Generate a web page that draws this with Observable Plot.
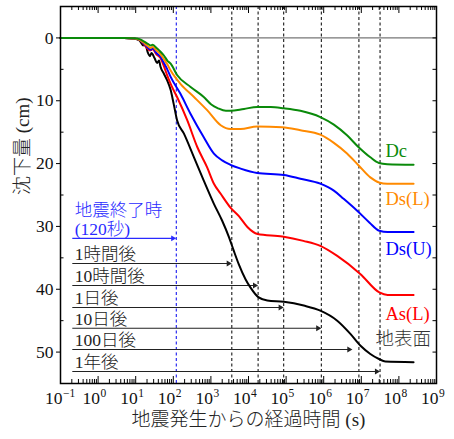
<!DOCTYPE html>
<html><head><meta charset="utf-8">
<script src="https://cdn.jsdelivr.net/npm/d3@7"></script>
<script src="https://cdn.jsdelivr.net/npm/@observablehq/plot@0.6"></script>
<style>body{margin:0;background:#fff}</style>
</head><body><div id="chart"></div>
<script>
// ---- data (time as log10 seconds, settlement in cm) ----
const seriesNames  = ["地表面", "As(L)", "Ds(U)", "Ds(L)", "Dc"];
const seriesColors = ["#000000", "#ff0000", "#0000ff", "#ff8a00", "#0a8a0a"];

const groundLogT = [-1,0.7,0.95,1.1,1.2,1.25,1.32,1.38,1.42,1.5,1.57,1.62,1.66,1.75,1.84,1.93,2.01,2.10,2.28,2.55,2.81,3.08,3.30,3.48,3.61,3.74,3.92,4.05,4.27,4.50,4.94,5.47,5.91,6.36,6.71,6.98,7.24,7.47,7.64,8.39];
const groundVal  = [0,0,0.1,0.4,1.2,0.9,2.3,2.9,2.4,3.2,4.0,3.6,4.6,5.7,6.8,8.3,10.5,13.1,15.2,19.0,22.7,26.4,29.1,31.7,33.9,36.0,38.4,39.7,41.3,41.8,42.0,42.6,43.4,45.0,47.1,49.0,50.3,51.1,51.5,51.6];

const asLogT = [-1,0.7,0.95,1.1,1.2,1.3,1.38,1.45,1.55,1.66,1.75,1.84,1.95,2.10,2.37,2.64,2.90,3.08,3.26,3.52,3.75,3.97,4.24,4.90,5.46,5.91,6.36,6.98,7.48,7.70,8.39];
const asVal  = [0,0,0.1,0.3,0.9,1.6,2.0,1.8,2.6,3.2,4.5,6.0,7.6,9.4,13.1,17.4,20.6,23.2,24.8,27.0,28.4,30.1,31.2,31.6,32.3,33.1,34.7,37.6,40.5,40.9,40.9];

const dsuLogT = [-1,0.7,0.95,1.1,1.2,1.3,1.4,1.45,1.55,1.66,1.75,1.84,1.93,2.19,2.46,2.81,3.08,3.30,3.52,3.79,4.23,4.94,5.38,5.91,6.27,6.53,6.89,7.22,7.48,7.70,8.39];
const dsuVal  = [0,0,0.1,0.3,0.8,1.4,1.9,1.6,2.4,3.0,4.0,5.0,6.2,8.9,12.1,15.8,18.4,19.5,20.2,20.8,21.5,21.8,22.4,23.2,24.3,25.6,27.5,29.4,30.7,30.9,30.9];

const dslLogT = [-1,0.7,0.95,1.1,1.2,1.3,1.4,1.45,1.55,1.66,1.75,1.84,1.93,2.19,2.55,2.90,3.26,3.52,3.79,4.23,4.90,5.38,5.91,6.27,6.62,6.93,7.24,7.47,7.69,8.39];
const dslVal  = [0,0,0.1,0.3,0.7,1.2,1.6,1.4,2.0,2.6,3.4,4.2,5.2,7.3,9.4,11.5,13.9,14.5,14.5,14.1,14.2,14.7,15.4,16.7,18.4,20.3,22.2,23.0,23.2,23.2];

const dcLogT = [-1,0.7,0.95,1.1,1.2,1.31,1.4,1.45,1.57,1.66,1.75,1.84,1.93,2.10,2.46,2.81,3.01,3.19,3.40,3.52,3.88,4.23,4.59,4.94,5.38,5.91,6.27,6.62,6.93,7.24,7.47,7.69,8.39];
const dcVal  = [0,0,0.05,0.2,0.5,0.9,1.2,1.1,1.7,2.2,2.8,3.6,4.1,5.9,7.8,9.4,10.6,11.2,11.6,11.6,11.3,11.0,11.0,11.2,11.6,12.6,13.8,15.5,17.4,19.0,19.9,20.1,20.2];

const seriesLogT = [groundLogT, asLogT, dsuLogT, dslLogT, dcLogT];
const seriesVal  = [groundVal, asVal, dsuVal, dslVal, dcVal];

// series labels (time s, settlement cm)
const labelTimes = [2.4e7, 4.4e7, 4.4e7, 4.4e7, 4.4e7];
const labelVals  = [47.9, 43.9, 33.6, 25.7, 18.0];
const labelColors = ["#333333", "#ff0000", "#0000ff", "#ff8a00", "#0a8a0a"];

// time annotations
const annTitle   = "地震終了時";
const annLabels  = ["(120秒)", "1時間後", "10時間後", "1日後", "10日後", "100日後", "1年後"];
const annArrowY  = [31.9, 35.9, 39.4, 42.9, 46.2, 49.6, 53.1];
const annArrowEnd = [120, 3600, 18000, 86400, 864000, 5.8e6, 31536000];
const annColors  = ["#2a2aff", "#222", "#222", "#222", "#222", "#222", "#222"];
const dashTimes  = [120, 3600, 18000, 86400, 864000, 8640000, 31536000];
const dashColors = ["#0000ee", "#000", "#000", "#000", "#000", "#000", "#000"];
const arrowStart = 0.24;

// axes
const xDecades  = [-1,0,1,2,3,4,5,6,7,8,9];
const xExpLabels = ["−1","0","1","2","3","4","5","6","7","8","9"];
const minorMult = [2,3,4,5,6,7,8,9];
const yMajor = [0,10,20,30,40,50];
const yAll = [-5,0,5,10,15,20,25,30,35,40,45,50,55];

// ---- build ----
const rows = [];
seriesNames.forEach((s, i) => {
  seriesLogT[i].forEach((e, j) => rows.push({s, t: Math.pow(10, e), v: seriesVal[i][j]}));
});
const minorTicks = [];
xDecades.slice(0, -1).forEach(d => minorMult.forEach(m => minorTicks.push(m * Math.pow(10, d))));
const majorTicks = xDecades.map(d => Math.pow(10, d));
const yMinor = yAll.filter(v => !yMajor.includes(v) && v > -5 && v < 55);

const W = 454, H = 439, mL = 60, mR = 18, mT = 6, mB = 56;
const pw = W - mL - mR, ph = H - mT - mB;
const ann = annLabels.map((l, i) => ({l, y: annArrowY[i], x2: annArrowEnd[i], c: annColors[i]}));
const font = "'Liberation Serif', 'Noto Sans CJK JP', serif";

const chart = Plot.plot({
  width: W, height: H,
  marginLeft: mL, marginRight: mR, marginTop: mT, marginBottom: mB,
  style: {fontFamily: font, background: "#fff", overflow: "visible"},
  x: {type: "log", domain: [0.1, 1e9], axis: null},
  y: {domain: [-5, 55], reverse: true, axis: null},
  color: {domain: seriesNames, range: seriesColors},
  marks: [
    // dashed time lines
    Plot.ruleX(dashTimes, {x: d => d, stroke: (d, i) => dashColors[i], strokeWidth: 1, strokeDasharray: "3,2.5"}),
    // zero line
    Plot.ruleY([0], {stroke: "#777", strokeWidth: 1.1}),
    // arrows
    Plot.ruleY(ann, {y: "y", x1: () => arrowStart, x2: "x2", stroke: "c", strokeWidth: 1.1, dx: -2}),
    Plot.dot(ann, {x: "x2", y: "y", symbol: "triangle", r: 2.2, rotate: 90, fill: "c", stroke: null, dx: -3.4}),
    Plot.text(ann, {x: () => arrowStart, y: "y", text: "l", fill: "c", textAnchor: "start", dy: -9, fontSize: 17.5, fontWeight: 300}),
    Plot.text([annTitle], {x: () => arrowStart, y: () => annArrowY[0], fill: annColors[0], textAnchor: "start", dy: -28, fontSize: 17.5, fontWeight: 300}),
    // curves
    Plot.line(rows, {x: "t", y: "v", z: "s", stroke: "s", strokeWidth: 2, curve: "monotone-x"}),
    // series labels
    Plot.text(seriesNames, {x: (d, i) => labelTimes[i], y: (d, i) => labelVals[i], text: d => d, fill: (d, i) => labelColors[i], textAnchor: "start", fontSize: 18.5, fontWeight: 300}),
    // frame & ticks
    Plot.frame({stroke: "#000", strokeWidth: 1.5}),
    Plot.tickX(majorTicks, {x: d => d, insetTop: ph - 7, stroke: "#000"}),
    Plot.tickX(majorTicks, {x: d => d, insetBottom: ph - 7, stroke: "#000"}),
    Plot.tickX(minorTicks, {x: d => d, insetTop: ph - 4, stroke: "#000"}),
    Plot.tickX(minorTicks, {x: d => d, insetBottom: ph - 4, stroke: "#000"}),
    Plot.tickY(yMajor, {y: d => d, insetLeft: -4, insetRight: pw, stroke: "#000"}),
    Plot.tickY(yMinor, {y: d => d, insetRight: pw - 3.5, stroke: "#000"}),
    Plot.tickY(yMajor.concat(yMinor), {y: d => d, insetLeft: pw - 3.5, stroke: "#000"}),
    // tick labels
    Plot.text(majorTicks, {x: d => d, frameAnchor: "bottom", text: () => "10", textAnchor: "end", dx: 2, dy: 20, fontSize: 17.5, fill: "#111"}),
    Plot.text(majorTicks, {x: d => d, frameAnchor: "bottom", text: (d, i) => xExpLabels[i], textAnchor: "start", dx: 2.5, dy: 13, fontSize: 11.5, fill: "#111"}),
    Plot.text(yMajor, {y: d => d, frameAnchor: "left", text: d => String(d), textAnchor: "end", dx: -7, fontSize: 17.5, fill: "#111"}),
    // axis titles
    Plot.text(["地震発生からの経過時間 (s)"], {frameAnchor: "bottom", dy: 42, fontSize: 19, fontWeight: 300, fill: "#222"}),
    Plot.text(["沈下量 (cm)"], {frameAnchor: "left", dx: -38, rotate: -90, fontSize: 19, fontWeight: 300, fill: "#222"})
  ]
});
document.getElementById("chart").appendChild(chart);
</script>
</body></html>
